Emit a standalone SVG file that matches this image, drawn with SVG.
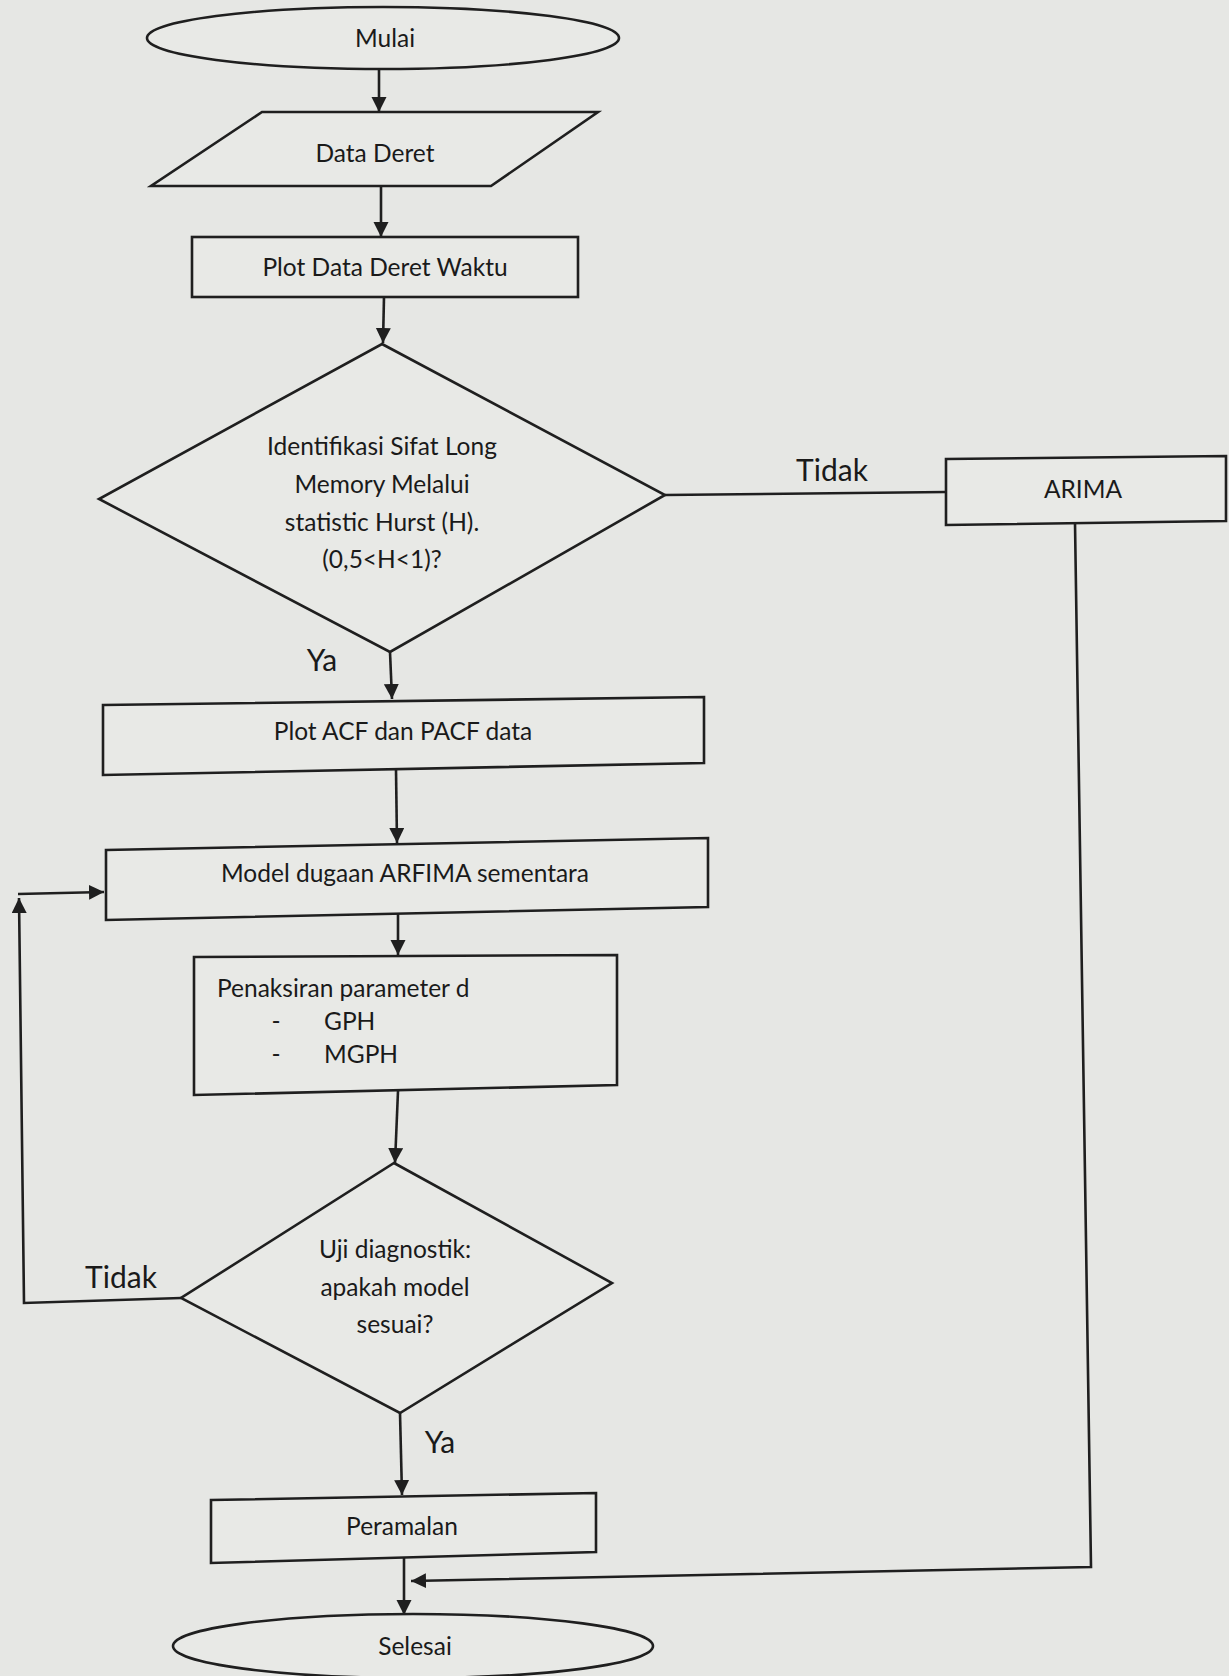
<svg xmlns="http://www.w3.org/2000/svg" width="1229" height="1676" viewBox="0 0 1229 1676">
<style>
.s{fill:none;stroke:#1f1f1f;stroke-width:2.6;stroke-linejoin:miter}
.n{fill:#e8e9e6;stroke:#1f1f1f;stroke-width:2.6}
.t{font-family:Lato,"Open Sans","Liberation Sans",sans-serif;font-size:24.5px;fill:#1a1a1a;text-anchor:middle}
.l{font-family:Lato,"Open Sans","Liberation Sans",sans-serif;font-size:30px;fill:#1a1a1a;text-anchor:middle}
.c{stroke:#1f1f1f;stroke-width:2.6;fill:none}
</style>
<defs>
<marker id="ah" markerUnits="userSpaceOnUse" markerWidth="17" markerHeight="16" refX="15" refY="7.5" orient="auto" viewBox="0 0 17 16">
<path d="M0,0 L15,7.5 L0,15 z" fill="#1f1f1f"/>
</marker>
</defs>
<rect x="0" y="0" width="1229" height="1676" fill="#e6e7e4"/>
<g id="connectors">
<line class="c" x1="379" y1="69" x2="379" y2="112" marker-end="url(#ah)"/>
<line class="c" x1="381" y1="186" x2="381" y2="237" marker-end="url(#ah)"/>
<line class="c" x1="384" y1="297" x2="383" y2="343" marker-end="url(#ah)"/>
<line class="c" x1="665" y1="495" x2="946" y2="492"/>
<line class="c" x1="390" y1="652" x2="392" y2="699" marker-end="url(#ah)"/>
<line class="c" x1="396" y1="770" x2="397" y2="843" marker-end="url(#ah)"/>
<line class="c" x1="398" y1="913" x2="398" y2="955" marker-end="url(#ah)"/>
<line class="c" x1="398" y1="1091" x2="395" y2="1163" marker-end="url(#ah)"/>
<polyline class="c" points="181,1298 24,1303 19,898" marker-end="url(#ah)"/>
<line class="c" x1="18" y1="894" x2="104" y2="892" marker-end="url(#ah)"/>
<line class="c" x1="400" y1="1413" x2="402" y2="1495" marker-end="url(#ah)"/>
<line class="c" x1="404" y1="1558" x2="404" y2="1615" marker-end="url(#ah)"/>
<polyline class="c" points="1075,523 1091,1567 411,1581" marker-end="url(#ah)"/>
<text class="l" x="832" y="481">Tidak</text>
<text class="l" x="322" y="671">Ya</text>
<text class="l" x="121" y="1288">Tidak</text>
<text class="l" x="440" y="1453">Ya</text>
</g>
<g id="mulai">
<ellipse class="n" cx="383" cy="38" rx="236" ry="31"/>
<text class="t" x="385" y="47">Mulai</text>
</g>
<g id="data-deret">
<polygon class="n" points="262,112 598,112 491,186 151,186"/>
<text class="t" x="375" y="162">Data Deret</text>
</g>
<g id="plot-data">
<rect class="n" x="192" y="237" width="386" height="60"/>
<text class="t" x="385" y="276">Plot Data Deret Waktu</text>
</g>
<g id="identifikasi">
<polygon class="n" points="382,344 665,495 390,652 99,499"/>
<text class="t" x="382" y="455">Identifikasi Sifat Long</text>
<text class="t" x="382" y="493">Memory Melalui</text>
<text class="t" x="382" y="531">statistic Hurst (H).</text>
<text class="t" x="382" y="568">(0,5&lt;H&lt;1)?</text>
</g>
<g id="arima">
<polygon class="n" points="946,459 1226,456 1226,521 946,525"/>
<text class="t" x="1083" y="498">ARIMA</text>
</g>
<g id="plot-acf">
<polygon class="n" points="103,705 704,697 704,763 103,775"/>
<text class="t" x="403" y="740">Plot ACF dan PACF data</text>
</g>
<g id="model">
<polygon class="n" points="106,850 708,838 708,907 106,920"/>
<text class="t" x="405" y="882">Model dugaan ARFIMA sementara</text>
</g>
<g id="penaksiran">
<polygon class="n" points="194,957 617,955 617,1085 194,1095"/>
<text class="t" x="217" y="997" style="text-anchor:start">Penaksiran parameter d</text>
<text class="t" x="276" y="1030">-</text>
<text class="t" x="324" y="1030" style="text-anchor:start">GPH</text>
<text class="t" x="276" y="1063">-</text>
<text class="t" x="324" y="1063" style="text-anchor:start">MGPH</text>
</g>
<g id="uji">
<polygon class="n" points="394,1163 612,1283 400,1413 181,1298"/>
<text class="t" x="395" y="1258">Uji diagnostik:</text>
<text class="t" x="395" y="1296">apakah model</text>
<text class="t" x="395" y="1333">sesuai?</text>
</g>
<g id="peramalan">
<polygon class="n" points="211,1500 596,1493 596,1552 211,1563"/>
<text class="t" x="402" y="1535">Peramalan</text>
</g>
<g id="selesai">
<ellipse class="n" cx="413" cy="1646" rx="240" ry="32"/>
<text class="t" x="415" y="1655">Selesai</text>
</g>
</svg>
